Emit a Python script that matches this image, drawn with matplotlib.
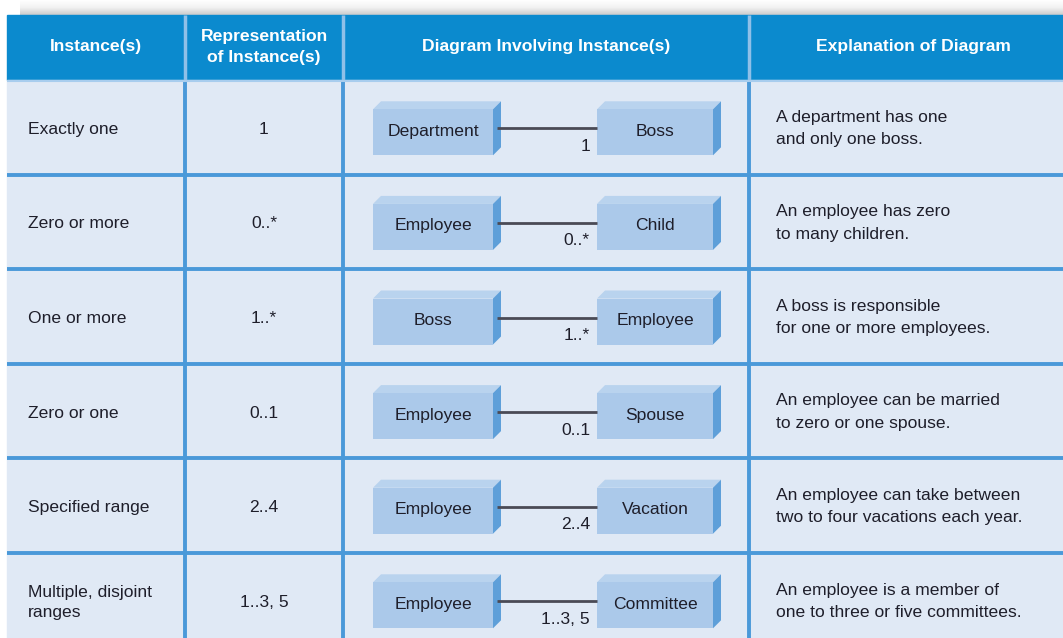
import matplotlib
matplotlib.use("Agg")
import matplotlib.pyplot as plt
from matplotlib.patches import Rectangle, Polygon
from matplotlib.colors import LinearSegmentedColormap
import numpy as np

plt.rcParams['font.family'] = ['Liberation Sans', 'DejaVu Sans']

headers = ["Instance(s)", "Representation\nof Instance(s)", "Diagram Involving Instance(s)", "Explanation of Diagram"]
instances = ["Exactly one", "Zero or more", "One or more", "Zero or one", "Specified range", "Multiple, disjoint\nranges"]
representations = ["1", "0..*", "1..*", "0..1", "2..4", "1..3, 5"]
left_entities = ["Department", "Employee", "Boss", "Employee", "Employee", "Employee"]
right_entities = ["Boss", "Child", "Employee", "Spouse", "Vacation", "Committee"]
explanations = [
    "A department has one\nand only one boss.",
    "An employee has zero\nto many children.",
    "A boss is responsible\nfor one or more employees.",
    "An employee can be married\nto zero or one spouse.",
    "An employee can take between\ntwo to four vacations each year.",
    "An employee is a member of\none to three or five committees.",
]

W, H = 1063, 638
fig = plt.figure(figsize=(W / 100, H / 100), dpi=100)
ax = fig.add_axes([0, 0, 1, 1])
ax.set_xlim(0, W)
ax.set_ylim(H, 0)
ax.axis('off')

HEADER_BLUE = "#0b8ace"
CELL_BG = "#e0e9f5"
GRID = "#4a99d9"
FRONT = "#abc9ea"
TOP = "#b9d3ee"
SIDE = "#5e9fd9"
TXT = "#1e1e2a"
FS = 12.6

# top shadow gradient
shade = LinearSegmentedColormap.from_list("shade", ["#ffffff", "#f2f2f2", "#cccccc"])
grad = np.linspace(0, 1, 32).reshape(-1, 1)
ax.imshow(grad, extent=(20, W, 15, 0), cmap=shade, vmin=0, vmax=1, aspect='auto', zorder=0)

col_x = [7, 185, 343, 749, 1080]
header_top, header_bot = 15, 80
row_h = 94.6
n_rows = len(instances)

ax.add_patch(Rectangle((col_x[0], header_top), W - col_x[0], header_bot - header_top, color=HEADER_BLUE, zorder=1))
ax.add_patch(Rectangle((col_x[0], header_bot), W - col_x[0], H - header_bot, color=CELL_BG, zorder=1))

for i, h in enumerate(headers):
    cx = (col_x[i] + col_x[i + 1]) / 2
    if i == 3:
        cx = 913
    ax.text(cx, 47, h, ha='center', va='center', color='white', fontsize=FS,
            fontweight='bold', linespacing=1.5, zorder=3)

for x in col_x[1:4]:
    ax.plot([x, x], [header_top, header_bot], color="#8fc0e8", lw=2.5, zorder=2, solid_capstyle='butt')
    ax.plot([x, x], [header_bot + 2, H], color=GRID, lw=2.8, zorder=2, solid_capstyle='butt')
ax.plot([col_x[0], W], [header_bot + 1, header_bot + 1], color="#a8cdee", lw=1.5, zorder=2, solid_capstyle='butt')
for r in range(1, n_rows + 1):
    y = header_bot + r * row_h
    ax.plot([col_x[0], W], [y, y], color=GRID, lw=2.8, zorder=2, solid_capstyle='butt')


def box(x0, x1, yc, label):
    h = 46
    d = 8
    y0 = yc - h / 2
    ax.add_patch(Polygon([(x0, y0), (x0 + d, y0 - d), (x1 + d, y0 - d), (x1, y0)], closed=True,
                         color=TOP, zorder=3, lw=0))
    ax.add_patch(Polygon([(x1, y0), (x1 + d, y0 - d), (x1 + d, y0 + h - d), (x1, y0 + h)], closed=True,
                         color=SIDE, zorder=3, lw=0))
    ax.add_patch(Rectangle((x0, y0), x1 - x0, h, color=FRONT, zorder=3, lw=0))
    ax.text((x0 + x1) / 2, yc - 1, label, ha='center', va='center', fontsize=FS, color=TXT, zorder=4)


for r in range(n_rows):
    top = header_bot + r * row_h
    yc = top + row_h / 2
    ax.text(28, yc + 2, instances[r], ha='left', va='center', fontsize=FS, color=TXT,
            linespacing=1.45, zorder=4)
    ax.text(264, yc + 2, representations[r], ha='center', va='center', fontsize=FS, color=TXT, zorder=4)
    byc = yc + 5
    box(373, 493, byc, left_entities[r])
    box(597, 713, byc, right_entities[r])
    ax.plot([497, 597], [byc - 4, byc - 4], color="#4a4a55", lw=2, zorder=3, solid_capstyle='butt')
    ax.text(590, byc + 14, representations[r], ha='right', va='center', fontsize=FS, color=TXT, zorder=4)
    ax.text(776, yc + 1, explanations[r], ha='left', va='center', fontsize=FS, color=TXT,
            linespacing=1.6, zorder=4)

fig.savefig("out.png", dpi=100)
